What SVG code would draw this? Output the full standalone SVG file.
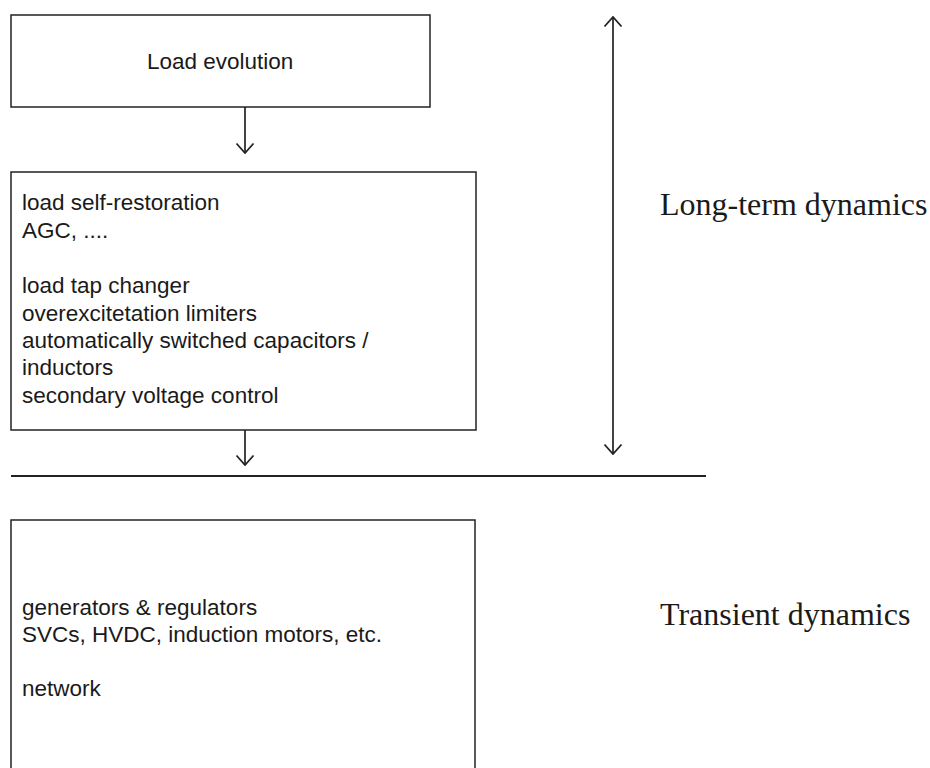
<svg xmlns="http://www.w3.org/2000/svg" width="930" height="768" viewBox="0 0 930 768">
<style>
.box{fill:none;stroke:#222;stroke-width:1.5}
.sans{font-family:"Liberation Sans",Arial,sans-serif;font-size:22.5px;fill:#1a1a1a}
.serif{font-family:"Liberation Serif","Times New Roman",serif;font-size:32px;fill:#1a1a1a}
.conn{fill:none;stroke:#222;stroke-width:1.7}
</style>
<defs>
<marker id="ah" viewBox="0 0 12 20" refX="11" refY="10" markerWidth="12" markerHeight="20" markerUnits="userSpaceOnUse" orient="auto-start-reverse">
<path d="M1.5,1.5 L11,10 L1.5,18.5" fill="none" stroke="#222" stroke-width="1.8"/>
</marker>
</defs>
<rect width="930" height="768" fill="#fff"/>
<g id="load-evolution">
<rect class="box" x="11" y="15" width="419" height="92"/>
<text class="sans" x="147" y="69">Load evolution</text>
</g>
<g id="long-term-box">
<rect class="box" x="11" y="172" width="465" height="258"/>
<text class="sans" x="22" y="210">load self-restoration</text>
<text class="sans" x="22" y="238">AGC, ....</text>
<text class="sans" x="22" y="293">load tap changer</text>
<text class="sans" x="22" y="321">overexcitetation limiters</text>
<text class="sans" x="22" y="348">automatically switched capacitors /</text>
<text class="sans" x="22" y="375">inductors</text>
<text class="sans" x="22" y="403">secondary voltage control</text>
</g>
<g id="transient-box">
<rect class="box" x="11" y="520" width="464" height="270"/>
<text class="sans" x="22" y="615">generators &amp; regulators</text>
<text class="sans" x="22" y="642">SVCs, HVDC, induction motors, etc.</text>
<text class="sans" x="22" y="696">network</text>
</g>
<g id="labels">
<text class="serif" x="660" y="215">Long-term dynamics</text>
<text class="serif" x="660" y="625">Transient dynamics</text>
</g>
<g id="connectors">
<line class="conn" x1="245" y1="107" x2="245" y2="153" marker-end="url(#ah)"/>
<line class="conn" x1="245" y1="430" x2="245" y2="465" marker-end="url(#ah)"/>
<line class="conn" x1="613" y1="17" x2="613" y2="454" marker-start="url(#ah)" marker-end="url(#ah)"/>
<line x1="11" y1="476" x2="706" y2="476" stroke="#222" stroke-width="2"/>
</g>
</svg>
